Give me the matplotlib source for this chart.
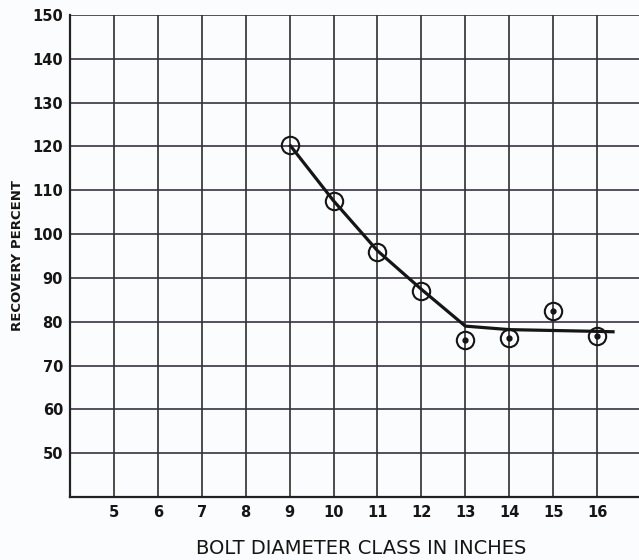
import matplotlib
matplotlib.use("Agg")
import matplotlib.pyplot as plt

# Data
bolt_class = [9, 10, 11, 12, 13, 14, 15, 16]
recovery = [120.4, 107.6, 96.0, 87.0, 75.8, 76.4, 82.4, 76.8]

curve_x = [9, 10, 11, 12, 13, 14, 15, 16, 16.4]
curve_y = [120.4, 107.6, 96.2, 87.4, 79.0, 78.2, 78.0, 77.8, 77.7]

x_ticks = [5, 6, 7, 8, 9, 10, 11, 12, 13, 14, 15, 16]
y_ticks = [50, 60, 70, 80, 90, 100, 110, 120, 130, 140, 150]

fig = plt.figure(figsize=(6.39, 5.6), dpi=100)
fig.patch.set_facecolor("#fbfcfd")
ax = fig.add_axes([70/639, 63/560, (641-70)/639, (497-15)/560])
ax.set_facecolor("#fbfcfd")

ax.set_xlim(4, 17)
ax.set_ylim(40, 150)

# grid
for xv in range(4, 18):
    ax.axvline(xv, color="#2e2e2e", lw=1.2, zorder=1)
for yv in range(40, 151, 10):
    ax.axhline(yv, color="#3a2f45", lw=1.2, zorder=1)

for s in ["left", "bottom"]:
    ax.spines[s].set_color("#222222")
    ax.spines[s].set_linewidth(1.6)
for s in ["top", "right"]:
    ax.spines[s].set_visible(False)

ax.plot(curve_x, curve_y, color="#151515", lw=2.3, zorder=3, solid_capstyle="butt")
ax.plot(bolt_class, recovery, linestyle="none", marker="o", markersize=12.5,
        markerfacecolor="none", markeredgecolor="#151515", markeredgewidth=1.5, zorder=4)
ax.plot(bolt_class[4:], recovery[4:], linestyle="none", marker="o", markersize=3.5,
        color="#151515", zorder=4)

ax.set_xticks(x_ticks)
ax.set_xticklabels([str(v) for v in x_ticks])
ax.set_yticks(y_ticks)
ax.set_yticklabels([str(v) for v in y_ticks])
ax.tick_params(length=0, labelsize=10.5, colors="#151515")
ax.tick_params(axis="y", pad=5)
ax.tick_params(axis="x", pad=6)
for lab in ax.get_xticklabels() + ax.get_yticklabels():
    lab.set_fontweight("bold")

fig.text(361/639, 1 - 549/560, "BOLT DIAMETER CLASS IN INCHES", ha="center", va="center",
         fontsize=14, color="#151515")
fig.text(18/639, 1 - 256/560, "RECOVERY PERCENT", ha="center", va="center", rotation=90,
         fontsize=9.5, fontweight="bold", color="#151515")

fig.savefig("out.png", dpi=100, facecolor=fig.get_facecolor())
